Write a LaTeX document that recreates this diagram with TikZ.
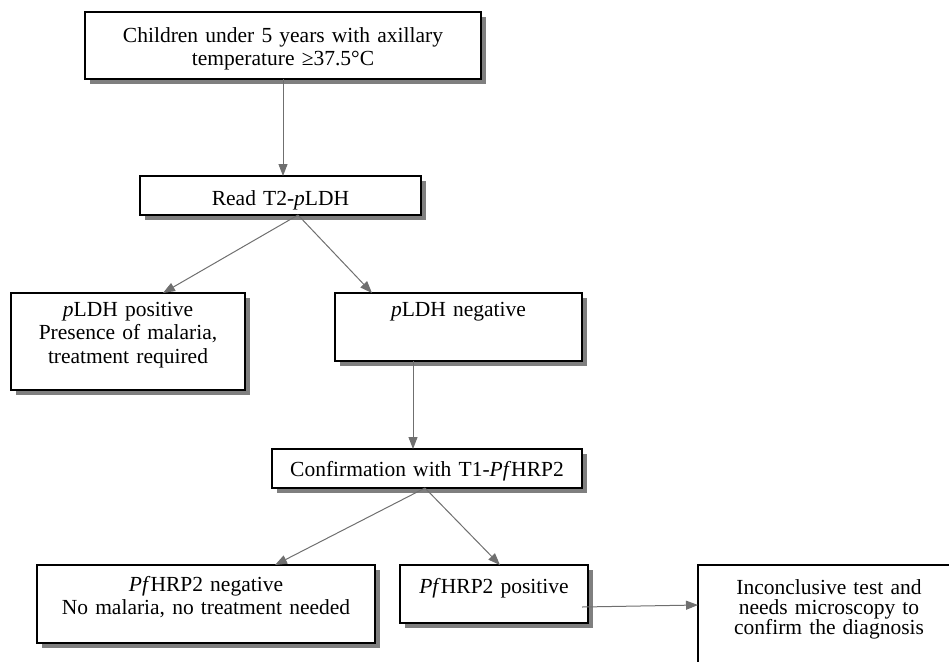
\documentclass[tikz,border=0pt]{standalone}
\usepackage{fontspec}
\setmainfont{Liberation Serif}
\usetikzlibrary{shapes,arrows.meta,shadows}
\usetikzlibrary{positioning,calc}
\definecolor{linkcol}{HTML}{6F6F6F}
\definecolor{shadecol}{HTML}{7F7F7F}
\tikzstyle{link} = [-{Triangle[length=12pt,width=9pt]},linkcol,line width=1pt]
\tikzset{
  basic box/.style = {
    shape = rectangle,
    draw,
    fill = white,
    line width = 1.5pt,
    align = center,
    inner sep = 0pt,
    outer sep = 0pt,
    font = \fontsize{21.5}{23.5}\selectfont,
    },
  shaded box/.style = {
    basic box,
    drop shadow = {shadow xshift=5pt, shadow yshift=-5pt, fill=shadecol, opacity=1},
    },
  flow box/.style n args = {3}{%
    shaded box,
    text width = #1,
    text height = #2,
    text depth = #3,
    },
}

\begin{document}
\begin{tikzpicture}[x=1pt,y=1pt]
    \useasboundingbox (0,0) rectangle (949,-661);

    % screening
    \node [flow box={396pt}{30pt}{37pt}] (children) at (283,-45.5)
        {Children under 5 years with axillary\\temperature ≥37.5°C};

    \node [flow box={281pt}{29pt}{10pt}, below=97pt of children, xshift=-2.5pt] (read)
        {Read T2-\textit{p}LDH};

    % first test
    \node [flow box={234pt}{23pt}{74pt}, below=78pt of read, xshift=-152.5pt] (ldhpos)
        {\textit{p}LDH positive\\Presence of malaria,\\treatment required};
    \node [flow box={247pt}{23pt}{45pt}, below=78pt of read, xshift=178pt] (ldhneg)
        {\textit{p}LDH negative};

    \node [flow box={310pt}{27pt}{12pt}, below=88pt of ldhneg, xshift=-31.5pt] (conf)
        {Confirmation with T1-\textit{Pf}HRP2};

    % second test
    \node [flow box={338pt}{26pt}{52pt}, below=77pt of conf, xshift=-221pt] (hrpneg)
        {\textit{Pf}HRP2 negative\\No malaria, no treatment needed};
    \node [flow box={188pt}{28pt}{30pt}, below=77pt of conf, xshift=67pt] (hrppos)
        {\textit{Pf}HRP2 positive};
    \node [flow box={262pt}{29pt}{86pt}, font=\fontsize{21.5}{20}\selectfont,
        below=77pt of conf, xshift=402pt] (incon)
        {Inconclusive test and\\needs microscopy to\\confirm the diagnosis};

    % Paths
    \draw[link] (children.south) -- (children.south |- read.north);

    \coordinate (readfork) at ([xshift=17.5pt]read.south);
    \draw[link] (readfork) -- ([xshift=35pt]ldhpos.north);
    \draw[link] (readfork) -- ([xshift=-86.5pt]ldhneg.north);

    \coordinate (negdown) at ([xshift=-45.5pt]ldhneg.south);
    \draw[link] (negdown) -- (negdown |- conf.north);

    \coordinate (conffork) at ([xshift=-2pt]conf.south);
    \draw[link] (conffork) -- ([xshift=69pt]hrpneg.north);
    \draw[link] (conffork) -- ([xshift=6pt]hrppos.north);

    \draw[link] ([xshift=-6pt,yshift=-13pt]hrppos.east) -- ([yshift=17.5pt]incon.west);
\end{tikzpicture}
\end{document}
